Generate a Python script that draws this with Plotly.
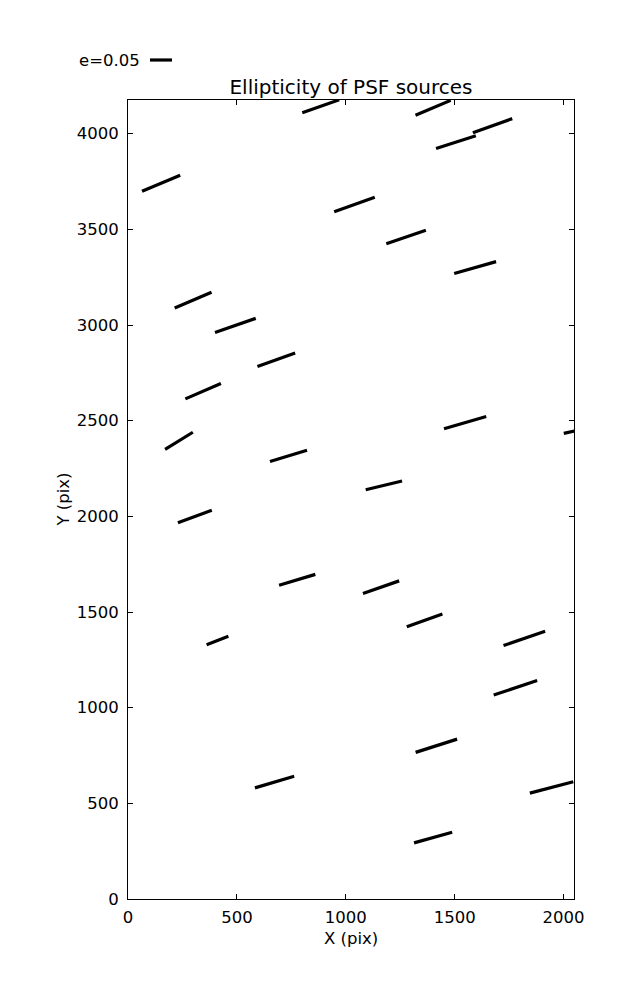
import numpy as np
import plotly.graph_objects as go

# PSF source positions (pix), ellipticity and orientation angle (deg, on screen)
src_x = [885, 152, 1040, 299, 493, 681, 1401, 1674, 1506, 1277, 1594, 345, 234, 737,
         307, 777, 411, 1548, 2090, 1175, 1162, 1362, 1820, 1779, 1416, 1945, 1401, 673]
src_y = [4143, 3741, 3630, 3130, 2998, 2818, 4135, 4042, 3956, 3460, 3300, 2654, 2395, 2316,
         1999, 1668, 1351, 2490, 2455, 2162, 1630, 1456, 1362, 1104, 801, 583, 321, 611]
src_e = [0.089, 0.094, 0.098, 0.091, 0.098, 0.091, 0.087, 0.095, 0.095, 0.095, 0.099, 0.088,
         0.074, 0.088, 0.082, 0.086, 0.053, 0.100, 0.090, 0.085, 0.087, 0.086, 0.100, 0.104,
         0.099, 0.102, 0.090, 0.093]
src_theta = [19.4, 22.7, 19.7, 23.0, 19.0, 19.6, 23.0, 19.6, 17.7, 18.9, 15.9, 23.3, 31.5, 17.1,
             20.0, 16.8, 20.9, 16.2, 12.0, 13.5, 19.1, 19.6, 19.0, 18.3, 17.7, 14.7, 15.6, 16.4]

key_e = 0.05
x_range = [0, 2048]
y_range = [0, 4176]
xticks = [0, 500, 1000, 1500, 2000]
yticks = [0, 500, 1000, 1500, 2000, 2500, 3000, 3500, 4000]

W, H = 637, 1000
page_off = 8  # default body margin of the html page
ml, mr, mt, mb = 128 - page_off, 63 + page_off, 100 - page_off, 101 + page_off
plot_w = W - ml - mr
plot_h = H - mt - mb
px_per_x = plot_w / (x_range[1] - x_range[0])
px_per_y = plot_h / (y_range[1] - y_range[0])
px_per_e = 440.0  # screen length (px) per unit ellipticity

xs, ys = [], []
for x, y, e, th in zip(src_x, src_y, src_e, src_theta):
    half = e * px_per_e / 2
    t = np.deg2rad(th)
    dx = half * np.cos(t) / px_per_x
    dy = half * np.sin(t) / px_per_y
    xs += [x - dx, x + dx, None]
    ys += [y - dy, y + dy, None]

fig = go.Figure()
fig.add_trace(go.Scatter(x=xs, y=ys, mode="lines",
                         line=dict(color="black", width=3.2), hoverinfo="skip",
                         showlegend=False))

font = dict(family="DejaVu Sans", color="black")

axis_common = dict(showgrid=False, zeroline=False, showline=True, linecolor="black",
                   linewidth=1, mirror="allticks", ticks="inside", ticklen=5,
                   tickcolor="black", tickwidth=1,
                   tickfont=dict(family="DejaVu Sans", size=16.5, color="black"))

fig.update_xaxes(range=x_range, tickvals=xticks, ticklabelstandoff=3, **axis_common)
fig.update_yaxes(range=y_range, tickvals=yticks, ticklabelstandoff=5, **axis_common)

# reference-pixel helpers (relative to plot area)
def px_to_paper_x(px):
    return (px - 128) / plot_w

def px_to_paper_y(py):
    return (899 - py) / plot_h

# key
key_len_paper = key_e * px_per_e / plot_w
key_x0 = px_to_paper_x(150)
key_y = px_to_paper_y(60)
fig.add_shape(type="line", xref="paper", yref="paper",
              x0=key_x0, x1=key_x0 + key_len_paper, y0=key_y, y1=key_y,
              line=dict(color="black", width=3.2))
fig.add_annotation(text=f"e={key_e}", xref="paper", yref="paper",
                   x=px_to_paper_x(142), y=key_y, xanchor="right", yanchor="middle",
                   showarrow=False, font=dict(size=16.5, **font))

fig.add_annotation(text="X (pix)", xref="paper", yref="paper",
                   x=0.5, y=px_to_paper_y(938), xanchor="center", yanchor="middle",
                   showarrow=False, font=dict(size=16.5, **font))
fig.add_annotation(text="Y (pix)", xref="paper", yref="paper",
                   x=px_to_paper_x(63), y=0.5, xanchor="center", yanchor="middle",
                   textangle=-90, showarrow=False, font=dict(size=16.5, **font))

fig.update_layout(
    width=W, height=H,
    margin=dict(l=ml, r=mr, t=mt, b=mb, autoexpand=False),
    paper_bgcolor="white", plot_bgcolor="white",
    title=dict(text="Ellipticity of PSF sources", x=(ml + plot_w / 2) / W, xanchor="center",
               y=1 - (87 - page_off) / H, yanchor="middle", font=dict(size=20, **font)),
)

fig.write_html("out.html")
